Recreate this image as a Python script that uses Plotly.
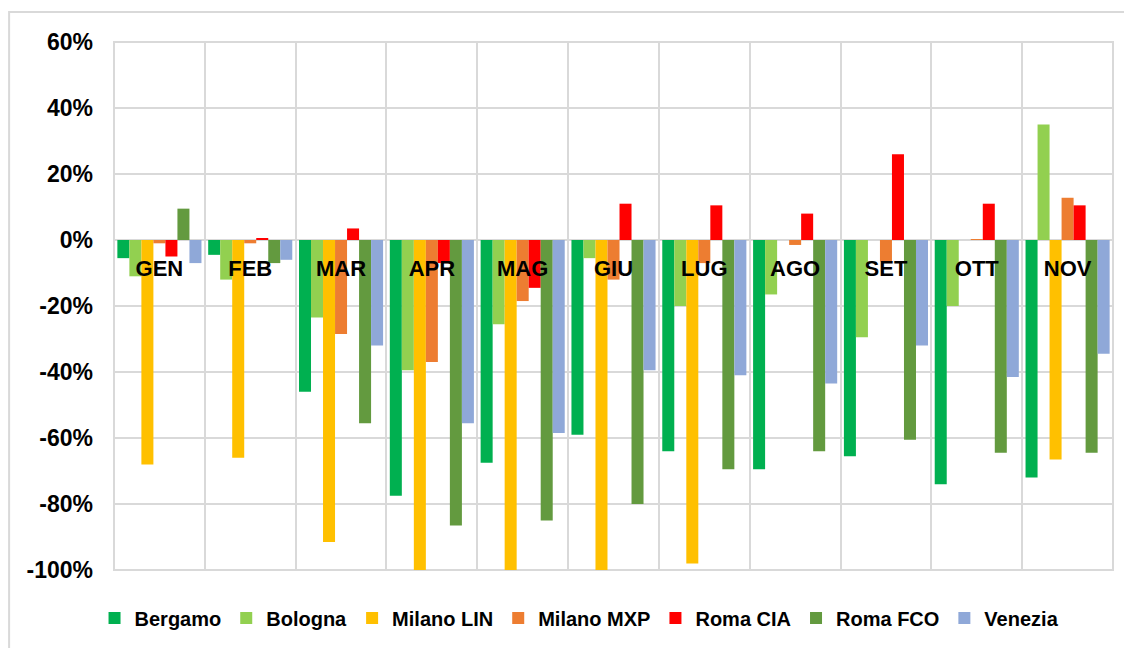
import plotly.graph_objects as go

# Months (Italian abbreviations) and % change per airport
months = ['GEN', 'FEB', 'MAR', 'APR', 'MAG', 'GIU', 'LUG', 'AGO', 'SET', 'OTT', 'NOV']

bergamo = [-5.5, -4.5, -46, -77.5, -67.5, -59, -64, -69.5, -65.5, -74, -72]
bologna = [-11, -12, -23.5, -39.5, -25.5, -5.5, -20, -16.5, -29.5, -20, 35]
milano_lin = [-68, -66, -91.5, -100, -100, -100, -98, 0, 0, 0, -66.5]
milano_mxp = [-1, -1, -28.5, -37, -18.5, -12, -7, -1.5, -6.5, 0.3, 12.8]
roma_cia = [-5, 0.6, 3.5, -7, -14.5, 11, 10.5, 8, 26, 11, 10.5]
roma_fco = [9.5, -7, -55.5, -86.5, -85, -80, -69.5, -64, -60.5, -64.5, -64.5]
venezia = [-7, -6, -32, -55.5, -58.5, -39.5, -41, -43.5, -32, -41.5, -34.5]

y_ticks = [-100, -80, -60, -40, -20, 0, 20, 40, 60]
y_labels = ['-100%', '-80%', '-60%', '-40%', '-20%', '0%', '20%', '40%', '60%']

series = [
    ('Bergamo', bergamo, '#00B050'),
    ('Bologna', bologna, '#92D050'),
    ('Milano LIN', milano_lin, '#FFC000'),
    ('Milano MXP', milano_mxp, '#ED7D31'),
    ('Roma CIA', roma_cia, '#FF0000'),
    ('Roma FCO', roma_fco, '#639A3F'),
    ('Venezia', venezia, '#8FA8D8'),
]

GRID = '#D9D9D9'
FONT = 'Liberation Sans, Arial, sans-serif'

fig = go.Figure()
for name, vals, color in series:
    fig.add_trace(go.Bar(x=months, y=vals, name=name,
                         marker=dict(color=color, line=dict(width=0))))

# page body adds an 8px offset, so margins are compensated
fig.update_layout(
    width=1132,
    height=648,
    margin=dict(l=106, r=27, t=34, b=86),
    paper_bgcolor='white',
    plot_bgcolor='white',
    barmode='group',
    bargap=0.074,
    bargroupgap=0,
    font=dict(family=FONT, color='black'),
    legend=dict(
        orientation='h',
        x=0.466, xanchor='center',
        y=-0.091, yanchor='middle',
        font=dict(family=FONT, size=20, weight='bold', color='black'),
        itemclick=False,
    ),
    shapes=[
        # outer chart-area border
        dict(type='rect', xref='paper', yref='paper',
             x0=-0.105, x1=1.05, y0=-0.25, y1=1.057,
             line=dict(color=GRID, width=2), layer='below'),
        # plot-area edges (grid box)
        dict(type='rect', xref='paper', yref='paper',
             x0=0, x1=1, y0=0, y1=1,
             line=dict(color=GRID, width=2), layer='below'),
    ],
)

# category labels sit next to the zero line, gridlines between categories
fig.update_xaxes(
    type='category',
    range=[-0.5, len(months) - 0.5],
    anchor='free', position=0.625,
    tickson='boundaries',
    showgrid=True, gridcolor=GRID, gridwidth=2,
    showline=False, ticks='',
    ticklabelstandoff=13,
    tickfont=dict(family=FONT, size=22, weight='bold', color='black'),
)

fig.update_yaxes(
    range=[-100, 60],
    tickvals=y_ticks,
    ticktext=y_labels,
    showgrid=True, gridcolor=GRID, gridwidth=2,
    zeroline=True, zerolinecolor=GRID, zerolinewidth=2,
    showline=False, ticks='',
    ticklabelstandoff=20,
    tickfont=dict(family=FONT, size=23, weight='bold', color='black'),
)

fig.write_html("out.html")
